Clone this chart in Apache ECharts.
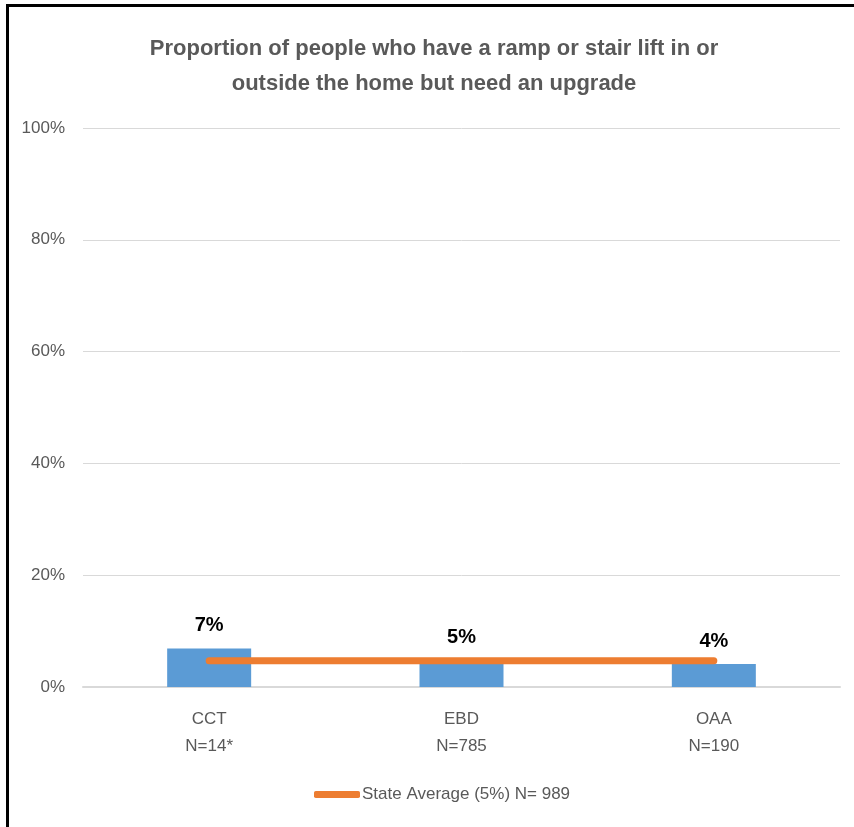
<!DOCTYPE html>
<html>
<head>
<meta charset="utf-8">
<script src="https://cdn.jsdelivr.net/npm/echarts@6/dist/echarts.min.js"></script>
<style>
html,body{margin:0;padding:0;background:#fff;}
#c{width:854px;height:827px;}
</style>
</head>
<body>
<div id="c"></div>
<script>
const titleText = "Proportion of people who have a ramp or stair lift in or\noutside the home but need an upgrade";
const categories = ["CCT\nN=14*", "EBD\nN=785", "OAA\nN=190"];
const groupValues = [6.9, 4.8, 4.1];
const stateAverage = [4.7, 4.7, 4.7];
const stateName = "State Average (5%) N= 989";
const yTicks = [0, 20, 40, 60, 80, 100];

const FONT = '"Liberation Sans Narrow", "Liberation Sans", sans-serif';
const chart = echarts.init(document.getElementById('c'), null, {renderer: 'canvas'});
chart.setOption({
  animation: false,
  backgroundColor: '#ffffff',
  title: {
    text: titleText,
    left: 429, top: 26, textAlign: 'center',
    textStyle: {fontFamily: FONT, fontSize: 22, fontWeight: 'bold', color: '#595959', lineHeight: 35}
  },
  graphic: [
    {type: 'rect', shape: {x: 6, y: 4, width: 848, height: 3}, style: {fill: '#000'}},
    {type: 'rect', shape: {x: 6, y: 4, width: 3, height: 823}, style: {fill: '#000'}}
  ],
  legend: {
    data: [{name: stateName, icon: 'roundRect'}],
    left: 309, top: 781,
    itemWidth: 46, itemHeight: 7, itemGap: 10,
    textStyle: {fontFamily: FONT, fontSize: 17, color: '#595959', padding: [0,0,0,-3]}
  },
  grid: {left: 83, right: 14, top: 128, bottom: 140, containLabel: false},
  xAxis: {
    type: 'category', data: categories,
    axisLine: {show: true, lineStyle: {color: '#d9d9d9', width: 2}},
    axisTick: {show: false},
    axisLabel: {fontFamily: FONT, fontSize: 17, color: '#595959', lineHeight: 27, margin: 19}
  },
  yAxis: {
    type: 'value', min: yTicks[0], max: yTicks[yTicks.length-1], interval: 20,
    axisLine: {show: false}, axisTick: {show: false},
    splitLine: {lineStyle: {color: '#d9d9d9', width: 1}},
    axisLabel: {fontFamily: FONT, fontSize: 17, color: '#595959', margin: 18, formatter: v => v + '%'}
  },
  series: [
    {
      type: 'bar', name: 'Group', data: groupValues, barWidth: 84,
      itemStyle: {color: '#5B9BD5'},
      label: {show: true, position: 'top', distance: 13,
        fontFamily: FONT, fontSize: 20, fontWeight: 'bold', color: '#000',
        formatter: p => Math.round(p.value) + '%'}
    },
    {
      type: 'line', name: stateName, data: stateAverage, symbol: 'none',
      lineStyle: {color: '#ED7D31', width: 7, cap: 'round'},
      itemStyle: {color: '#ED7D31'},
      z: 5
    }
  ]
});
</script>
</body>
</html>
